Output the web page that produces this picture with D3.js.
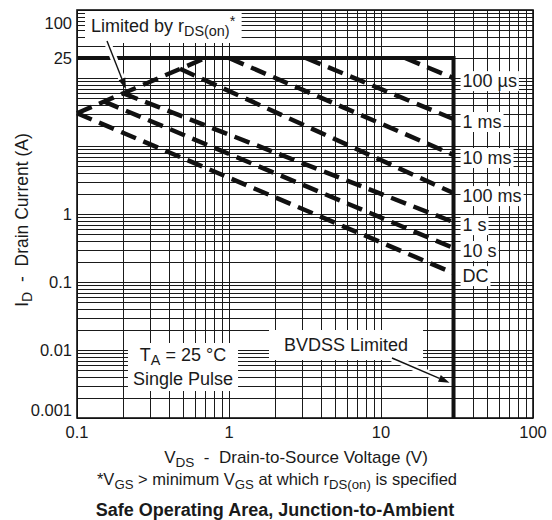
<!DOCTYPE html>
<html><head><meta charset="utf-8">
<script src="https://cdn.jsdelivr.net/npm/d3@7"></script>
<style>
body{margin:0;background:#fff}
text{font-family:"Liberation Sans",Arial,Helvetica,sans-serif;fill:#1a1a1a}
</style>
</head><body><svg id="c" width="552" height="520"></svg>
<script>
// ---------------- data ----------------
const xTickValues = [0.1, 1, 10, 100];
const xTickLabels = ["0.1", "1", "10", "100"];
const yTickValues = [0.001, 0.01, 0.1, 1, 25, 100];
const yTickLabels = ["0.001", "0.01", "0.1", "1", "25", "100"];
// solid limit: 25 A current limit then BVDSS (30 V) limit
const limitV = [0.1, 30, 30];
const limitI = [25, 25, 0.001];
// rDS(on) limit line
const rdsV = [0.1, 0.7];
const rdsI = [8.0, 25];
// pulse-width lines
const pulseNames = ["100 µs", "1 ms", "10 ms", "100 ms", "1 s", "10 s", "DC"];
const pulseStartV = [14.4, 3.2, 1.0, 0.476, 0.2, 0.15, 0.1];
const pulseStartI = [25, 25, 25, 20.0, 12.1, 10.2, 8.0];
const pulseEndV = [30, 30, 30, 30, 30, 30, 30];
const pulseEndI = [16.5, 7.1, 3.38, 1.54, 0.76, 0.316, 0.135];

// ---------------- layout ----------------
const L = 77, R = 533, T = 10, B = 418;
const svg = d3.select("#c");
const x = d3.scaleLog().domain([0.1, 100]).range([L, R]);
const yGrid = d3.scaleLog().domain([0.001, 1000]).range([B, T]);
const y = d3.scaleLog().domain([0.001, 1, 25, 100]).range([B, yGrid(1), 58, 23]);

// grid
const xg = [], yg = [];
for (let k = -1; k <= 1; k++) for (let m = 1; m <= 9; m++) xg.push(m * Math.pow(10, k));
xg.push(100);
for (let k = -3; k <= 2; k++) for (let m = 1; m <= 9; m++) yg.push(m * Math.pow(10, k));
yg.push(1000);
const grid = svg.append("g").attr("stroke", "#1a1a1a").attr("stroke-width", 1).attr("shape-rendering", "crispEdges");
grid.selectAll("line.v").data(xg).join("line").attr("class", "v")
  .attr("x1", d => Math.round(x(d)) + 0.5).attr("x2", d => Math.round(x(d)) + 0.5).attr("y1", T).attr("y2", B);
grid.selectAll("line.h").data(yg).join("line").attr("class", "h")
  .attr("y1", d => Math.round(yGrid(d)) + 0.5).attr("y2", d => Math.round(yGrid(d)) + 0.5).attr("x1", L).attr("x2", R);

// helper for rich text
function rich(g, segs, attrs) {
  const t = g.append("text");
  Object.entries(attrs).forEach(([k, v]) => t.attr(k, v));
  let shift = 0;
  segs.forEach(s => {
    const sp = t.append("tspan").text(s.t);
    const target = s.sub ? 4 : (s.sup ? -6 : 0);
    if (target !== shift) { sp.attr("dy", target - shift); shift = target; }
    if (s.sub || s.sup) sp.attr("font-size", "0.8em");
  });
  return t;
}
function boxBehind(g, t, px, py, extra) {
  const bb = t.node().getBBox();
  const e = extra || {};
  const x0 = e.x0 !== undefined ? e.x0 : bb.x - px;
  const y0 = e.y0 !== undefined ? e.y0 : bb.y - py;
  const x1 = e.x1 !== undefined ? e.x1 : bb.x + bb.width + px;
  const y1 = e.y1 !== undefined ? e.y1 : bb.y + bb.height + py;
  g.insert("rect", "text").attr("x", x0).attr("y", y0).attr("width", x1 - x0).attr("height", y1 - y0)
    .attr("fill", "#fff");
}

// annotation boxes (cover grid)
const ann = svg.append("g").attr("font-size", 18);
const lim = rich(ann, [{t: "Limited by r"}, {t: "DS(on)", sub: true}, {t: "*", sup: true}], {x: 91, y: 32});
boxBehind(ann, lim, 6, 0, {y0: T + 1, y1: 43});
const bv = rich(ann, [{t: "BVDSS Limited"}], {x: 284, y: 351});
boxBehind(ann, bv, 15, 5);
const ta = ann.append("g");
const ta1 = rich(ta, [{t: "T"}, {t: "A", sub: true}, {t: " = 25 °C"}], {x: 183, y: 361, "text-anchor": "middle"});
const ta2 = rich(ta, [{t: "Single Pulse"}], {x: 183, y: 385, "text-anchor": "middle"});
{
  const b1 = ta1.node().getBBox(), b2 = ta2.node().getBBox();
  const x0 = Math.min(b1.x, b2.x) - 5, x1 = Math.max(b1.x + b1.width, b2.x + b2.width) + 5;
  ta.insert("rect", "text").attr("x", x0).attr("y", b1.y - 2).attr("width", x1 - x0)
    .attr("height", b2.y + b2.height + 2 - (b1.y - 2)).attr("fill", "#fff");
}

// right-side pulse labels
const pl = svg.append("g").attr("font-size", 18);
pulseNames.forEach((n, i) => {
  const t = pl.append("text").attr("x", x(pulseEndV[i]) + 9).attr("y", y(pulseEndI[i]) + 3)
    .attr("dominant-baseline", "central").text(n);
  boxBehind(pl, t, 2, 0);
});

// curves
const line = d3.line().x(d => x(d[0])).y(d => y(d[1]));
const curves = svg.append("g").attr("fill", "none").attr("stroke", "#111");
curves.selectAll("path.p").data(pulseNames).join("path").attr("class", "p")
  .attr("d", (n, i) => line([[pulseStartV[i], pulseStartI[i]], [pulseEndV[i], pulseEndI[i]]]))
  .attr("stroke-width", 4.5).attr("stroke-dasharray", "16,8");
curves.append("path").attr("d", line(rdsV.map((v, i) => [v, rdsI[i]])))
  .attr("stroke-width", 4.5).attr("stroke-dasharray", "16,8");
curves.append("path").attr("d", line(limitV.map((v, i) => [v, limitI[i]])))
  .attr("stroke-width", 4).attr("stroke-linejoin", "miter");

// arrows
function arrow(x1, y1, x2, y2) {
  const g = svg.append("g");
  const a = Math.atan2(y2 - y1, x2 - x1), len = 11, hw = 3.6;
  const bx = x2 - len * Math.cos(a), by = y2 - len * Math.sin(a);
  g.append("line").attr("x1", x1).attr("y1", y1).attr("x2", bx).attr("y2", by)
    .attr("stroke", "#fff").attr("stroke-width", 7);
  g.append("line").attr("x1", x1).attr("y1", y1).attr("x2", bx).attr("y2", by)
    .attr("stroke", "#111").attr("stroke-width", 1.4);
  g.append("path").attr("d", `M${x2},${y2}L${bx - hw * Math.sin(a)},${by + hw * Math.cos(a)}L${bx + hw * Math.sin(a)},${by - hw * Math.cos(a)}Z`)
    .attr("fill", "#111");
}
{
  const v = 0.21;
  const t = (x(v) - x(rdsV[0])) / (x(rdsV[1]) - x(rdsV[0]));
  const yy = y(rdsI[0]) + (y(rdsI[1]) - y(rdsI[0])) * t;
  arrow(107, 41, x(v), yy - 3);
}
arrow(392, 358, x(30) - 4, y(0.0033));

// frame
svg.append("rect").attr("x", L).attr("y", T).attr("width", R - L).attr("height", B - T)
  .attr("fill", "none").attr("stroke", "#111").attr("stroke-width", 1.6);

// axis tick labels
const ax = svg.append("g").attr("font-size", 16.5);
ax.selectAll("text.xt").data(xTickValues).join("text").attr("class", "xt")
  .attr("x", d => x(d)).attr("y", B + 20).attr("text-anchor", "middle").text((d, i) => xTickLabels[i]);
ax.selectAll("text.yt").data(yTickValues).join("text").attr("class", "yt")
  .attr("x", L - 5).attr("y", d => Math.min(y(d), B - 8)).attr("dominant-baseline", "central")
  .attr("text-anchor", "end").text((d, i) => yTickLabels[i]);

// axis titles and captions
rich(svg.append("g").attr("font-size", 17), [{t: "V"}, {t: "DS", sub: true}, {t: "  -  Drain-to-Source Voltage (V)"}], {x: 296, y: 463, "text-anchor": "middle", "xml:space": "preserve"});
rich(svg.append("g").attr("font-size", 16.5), [{t: "*V"}, {t: "GS", sub: true}, {t: " > minimum V"}, {t: "GS", sub: true}, {t: " at which r"}, {t: "DS(on)", sub: true}, {t: " is specified"}], {x: 277, y: 485, "text-anchor": "middle", "xml:space": "preserve"});
svg.append("text").attr("x", 275).attr("y", 516).attr("text-anchor", "middle").attr("font-size", 18)
  .attr("font-weight", "bold").text("Safe Operating Area, Junction-to-Ambient");
const yt = svg.append("g").attr("transform", "translate(28,220) rotate(-90)").attr("font-size", 17.5);
rich(yt, [{t: "I"}, {t: "D", sub: true}, {t: "  -  Drain Current (A)"}], {x: 0, y: 0, "text-anchor": "middle", "xml:space": "preserve"});
</script>
</body></html>
